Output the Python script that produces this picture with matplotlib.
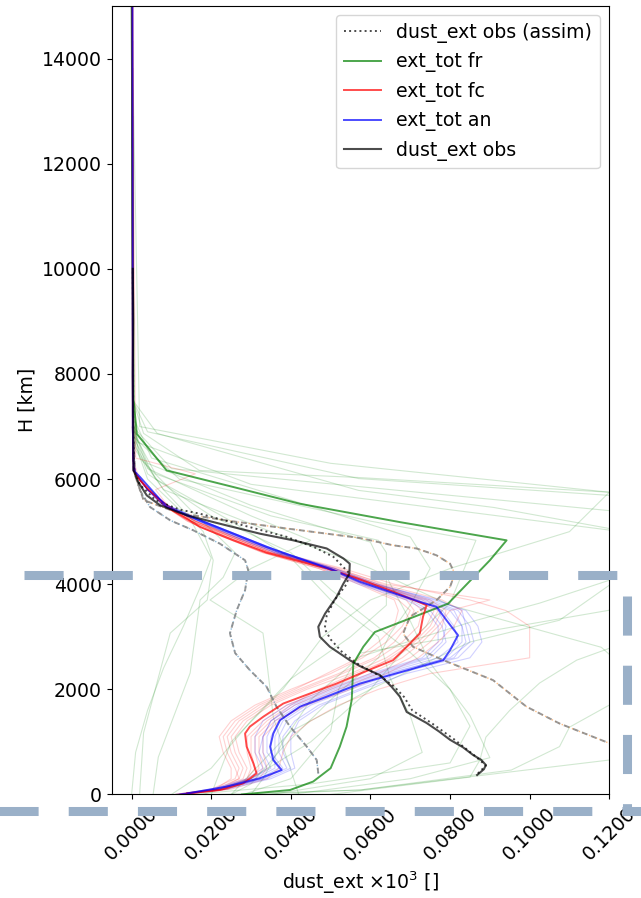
import matplotlib
matplotlib.use("Agg")
import matplotlib.pyplot as plt
from matplotlib.lines import Line2D
from matplotlib.ticker import FormatStrFormatter

# --- observed profiles ---
obs_H = [370, 480, 560, 660, 750, 900, 1040, 1200, 1360, 1570, 1860, 2050, 2270, 2440, 2555,
         2810, 3000, 3190, 3440, 3760, 4010, 4200, 4390, 4490, 4680, 4835, 4960, 5150,
         5310, 5500, 5690, 5940, 6165, 7000, 8000, 9000, 10000]
obs_x = [0.0868, 0.0885, 0.089, 0.0878, 0.0858, 0.0832, 0.080, 0.0772, 0.0741, 0.0691,
         0.0674, 0.0653, 0.0624, 0.0574, 0.0548, 0.0498, 0.0473, 0.0469, 0.0486, 0.0515,
         0.0532, 0.0547, 0.0548, 0.0532, 0.049, 0.0406, 0.0323, 0.0222, 0.0139, 0.0072,
         0.0038, 0.0017, 0.0005, 0.0004, 0.0003, 0.0004, 0.0003]

assim_H = [400, 550, 750, 1050, 1350, 1600, 1850, 2050, 2250, 2450, 2700, 2950, 3150,
           3400, 3700, 4000, 4200, 4520, 4700, 4900, 5120, 5340, 5420, 5600, 5900,
           6200, 7000, 10000]
assim_x = [0.087, 0.089, 0.086, 0.081, 0.0755, 0.0705, 0.0685, 0.066, 0.0625, 0.0575, 0.053,
           0.050, 0.0485, 0.049, 0.051, 0.054, 0.0548, 0.0507, 0.046, 0.039, 0.028,
           0.0172, 0.012, 0.006, 0.002, 0.0006, 0.0004, 0.0003]

# two other obs (assim) profiles, drawn dashed grey
obsL_H = [400, 655, 910, 1290, 1670, 2050, 2365, 2690, 3065, 3505, 3885, 4265, 4455,
          4520, 4770, 5025, 5215, 5470, 5785, 6100, 7000]
obsL_x = [0.0469, 0.0465, 0.044, 0.0398, 0.0364, 0.0339, 0.0297, 0.026, 0.0247, 0.0264,
          0.0285, 0.0293, 0.0285, 0.0272, 0.0222, 0.0155, 0.0097, 0.0046, 0.0021,
          0.0009, 0.0003]
obsR_H = [400, 700, 975, 1350, 1670, 2175, 2555, 2810, 3060, 3380, 3695, 3950, 4200,
          4390, 4550, 4680, 4740, 4880, 5050, 5200, 5350, 5600, 6150, 7000]
obsR_x = [0.14, 0.13, 0.12, 0.1075, 0.0992, 0.0908, 0.0783, 0.0707, 0.0682, 0.0699,
          0.0766, 0.080, 0.0812, 0.080, 0.0766, 0.0716, 0.0657, 0.0573, 0.040, 0.025,
          0.012, 0.003, 0.0005, 0.0003]

# --- ensemble means ---
fr_H = [0, 85, 245, 500, 910, 1290, 1800, 2490, 2810, 3090, 3630, 4455, 4835, 5180,
        5530, 5850, 6165, 6860, 7500, 15000]
fr_x = [0.0277, 0.0398, 0.0456, 0.050, 0.0523, 0.054, 0.0553, 0.0557, 0.0582, 0.0611,
        0.0795, 0.090, 0.0942, 0.0675, 0.0423, 0.0255, 0.0088, 0.0013, 0.0005, 0.0]

fc_H = [20, 85, 210, 400, 590, 910, 1160, 1290, 1480, 1730, 1920, 2110, 2300, 2555,
        2870, 3060, 3380, 3600, 3850, 4100, 4300, 4600, 4835, 5090, 5470, 5975, 6165,
        7000, 15000]
fc_x = [0.0139, 0.0222, 0.028, 0.0314, 0.0306, 0.0289, 0.0285, 0.0297, 0.0331, 0.0381,
        0.0448, 0.0515, 0.0574, 0.0657, 0.0699, 0.0724, 0.0732, 0.0741, 0.066, 0.057,
        0.049, 0.0339, 0.0256, 0.0172, 0.0088, 0.0021, 0.0005, 0.0003, 0.0002]

an_H = [20, 150, 310, 465, 655, 910, 1160, 1415, 1670, 1860, 2110, 2555, 2745, 3030,
        3315, 3570, 3665, 4045, 4265, 4710, 5215, 5470, 6040, 6165, 7000, 15000]
an_x = [0.014, 0.0239, 0.0323, 0.0377, 0.0356, 0.0348, 0.0356, 0.0373, 0.0423, 0.049,
        0.0574, 0.0783, 0.080, 0.082, 0.0791, 0.0766, 0.0724, 0.0574, 0.0507, 0.0339,
        0.0172, 0.0088, 0.0021, 0.0005, 0.0003, 0.0002]

# --- ensemble members (fc and an share one height grid) ---
mem_H = [0, 100, 300, 500, 800, 1100, 1400, 1700, 2000, 2300, 2600, 2900, 3200, 3500,
         3700, 4000, 4300, 4600, 4900, 5200, 5500, 5800, 6100, 6400, 15000]
fc_members = [
    [0.011, 0.020, 0.026, 0.027, 0.025, 0.024, 0.027, 0.033, 0.042, 0.052, 0.061, 0.066, 0.069, 0.071, 0.069, 0.059, 0.048, 0.034, 0.024, 0.015, 0.009, 0.004, 0.001, 0.0003, 0.0002],
    [0.012, 0.022, 0.028, 0.029, 0.027, 0.026, 0.029, 0.035, 0.044, 0.055, 0.064, 0.070, 0.074, 0.076, 0.072, 0.061, 0.050, 0.035, 0.025, 0.016, 0.009, 0.004, 0.001, 0.0003, 0.0002],
    [0.013, 0.024, 0.032, 0.034, 0.033, 0.033, 0.037, 0.043, 0.052, 0.062, 0.070, 0.075, 0.078, 0.079, 0.075, 0.062, 0.051, 0.036, 0.026, 0.016, 0.009, 0.004, 0.001, 0.0003, 0.0002],
    [0.012, 0.021, 0.025, 0.025, 0.023, 0.022, 0.025, 0.031, 0.040, 0.050, 0.058, 0.064, 0.068, 0.070, 0.067, 0.058, 0.047, 0.033, 0.023, 0.014, 0.008, 0.004, 0.001, 0.0003, 0.0002],
    [0.013, 0.025, 0.034, 0.037, 0.038, 0.040, 0.045, 0.052, 0.062, 0.075, 0.100, 0.100, 0.100, 0.094, 0.085, 0.066, 0.053, 0.037, 0.026, 0.016, 0.009, 0.004, 0.001, 0.0003, 0.0002],
    [0.012, 0.023, 0.030, 0.032, 0.031, 0.031, 0.035, 0.041, 0.050, 0.060, 0.068, 0.073, 0.077, 0.080, 0.090, 0.064, 0.051, 0.035, 0.025, 0.015, 0.009, 0.004, 0.001, 0.0003, 0.0002],
    [0.011, 0.021, 0.027, 0.028, 0.026, 0.025, 0.028, 0.034, 0.043, 0.053, 0.062, 0.068, 0.072, 0.073, 0.070, 0.060, 0.049, 0.034, 0.024, 0.015, 0.008, 0.004, 0.001, 0.0003, 0.0002],
    [0.012, 0.023, 0.029, 0.030, 0.029, 0.029, 0.033, 0.039, 0.049, 0.058, 0.065, 0.071, 0.075, 0.077, 0.073, 0.062, 0.050, 0.035, 0.025, 0.016, 0.009, 0.004, 0.001, 0.0003, 0.0002],
    [0.013, 0.024, 0.031, 0.033, 0.032, 0.032, 0.036, 0.044, 0.055, 0.064, 0.072, 0.077, 0.081, 0.083, 0.078, 0.063, 0.052, 0.036, 0.026, 0.016, 0.009, 0.004, 0.001, 0.0003, 0.0002],
    [0.011, 0.022, 0.027, 0.026, 0.024, 0.023, 0.026, 0.032, 0.041, 0.049, 0.057, 0.062, 0.066, 0.067, 0.066, 0.057, 0.047, 0.033, 0.023, 0.014, 0.008, 0.004, 0.0015, 0.0003, 0.0002],
    [0.012, 0.022, 0.029, 0.031, 0.030, 0.030, 0.034, 0.040, 0.047, 0.056, 0.066, 0.072, 0.076, 0.078, 0.074, 0.061, 0.050, 0.035, 0.025, 0.015, 0.009, 0.006, 0.016, 0.001, 0.0002],
]
an_members = [
    [0.012, 0.021, 0.030, 0.035, 0.033, 0.033, 0.035, 0.041, 0.051, 0.062, 0.075, 0.079, 0.078, 0.075, 0.070, 0.058, 0.049, 0.037, 0.027, 0.017, 0.008, 0.004, 0.001, 0.0003, 0.0002],
    [0.012, 0.023, 0.033, 0.039, 0.037, 0.037, 0.039, 0.045, 0.055, 0.066, 0.081, 0.084, 0.083, 0.080, 0.073, 0.060, 0.050, 0.038, 0.028, 0.018, 0.009, 0.004, 0.001, 0.0003, 0.0002],
    [0.011, 0.020, 0.029, 0.033, 0.031, 0.031, 0.033, 0.039, 0.049, 0.060, 0.073, 0.077, 0.077, 0.074, 0.069, 0.057, 0.048, 0.036, 0.026, 0.017, 0.008, 0.004, 0.001, 0.0003, 0.0002],
    [0.013, 0.024, 0.035, 0.041, 0.040, 0.040, 0.042, 0.048, 0.058, 0.069, 0.085, 0.088, 0.087, 0.084, 0.076, 0.062, 0.051, 0.038, 0.028, 0.018, 0.009, 0.004, 0.001, 0.0003, 0.0002],
    [0.012, 0.022, 0.032, 0.037, 0.034, 0.034, 0.036, 0.042, 0.052, 0.063, 0.077, 0.082, 0.081, 0.078, 0.072, 0.059, 0.050, 0.037, 0.027, 0.017, 0.008, 0.004, 0.001, 0.0003, 0.0002],
    [0.012, 0.022, 0.031, 0.036, 0.036, 0.036, 0.038, 0.044, 0.054, 0.065, 0.079, 0.083, 0.083, 0.081, 0.074, 0.060, 0.050, 0.037, 0.027, 0.018, 0.009, 0.004, 0.001, 0.0003, 0.0002],
    [0.012, 0.023, 0.034, 0.040, 0.038, 0.038, 0.041, 0.047, 0.057, 0.067, 0.082, 0.086, 0.085, 0.082, 0.075, 0.061, 0.051, 0.038, 0.028, 0.018, 0.009, 0.004, 0.001, 0.0003, 0.0002],
    [0.011, 0.021, 0.030, 0.034, 0.032, 0.033, 0.035, 0.040, 0.050, 0.061, 0.074, 0.078, 0.079, 0.077, 0.071, 0.058, 0.049, 0.036, 0.026, 0.017, 0.008, 0.004, 0.001, 0.0003, 0.0002],
    [0.012, 0.022, 0.033, 0.038, 0.035, 0.035, 0.037, 0.043, 0.053, 0.064, 0.080, 0.085, 0.084, 0.083, 0.077, 0.061, 0.050, 0.037, 0.027, 0.017, 0.008, 0.004, 0.001, 0.0003, 0.0002],
]

# fr members: each has its own levels
fr_members_H = [
    [0, 85, 465, 910, 1280, 1700, 3000, 4500, 5060, 5460, 5785, 6870, 7500, 15000],
    [0, 330, 655, 1090, 1600, 2120, 2555, 2780, 3500, 4500, 5750, 6030, 6165, 6870, 7500, 15000],
    [0, 300, 1000, 1800, 2620, 3315, 3640, 4075, 4600, 5690, 6010, 6900, 7500, 15000],
    [0, 400, 1200, 2000, 2900, 3315, 3980, 4700, 5400, 6200, 7000, 15000],
    [0, 300, 1200, 2000, 2690, 3125, 3505, 4300, 5030, 5900, 6700, 7200, 15000],
    [0, 1170, 3070, 3700, 4455, 5000, 5800, 6600, 7500, 15000],
    [0, 710, 2310, 3700, 4130, 4600, 5400, 6400, 7200, 15000],
    [0, 1470, 2500, 3070, 3700, 4300, 4835, 5300, 6200, 7000, 15000],
    [0, 300, 1000, 2000, 3060, 3640, 4835, 5200, 6000, 6800, 15000],
    [0, 500, 1400, 2200, 3000, 3600, 4600, 4835, 5300, 6100, 6900, 15000],
    [0, 85, 655, 1200, 2000, 2800, 3600, 4300, 5000, 5800, 6600, 15000],
    [0, 300, 800, 1500, 2200, 3000, 3700, 4500, 5200, 6000, 6800, 15000],
    [0, 200, 600, 1300, 2000, 2700, 3300, 3900, 4600, 5300, 6100, 6900, 15000],
    [0, 1000, 2000, 3000, 3700, 4300, 5000, 5750, 6300, 7000, 15000],
    [0, 300, 700, 1500, 2500, 3300, 4000, 4800, 5500, 6300, 7000, 15000],
    [0, 800, 1600, 2400, 3200, 3900, 4500, 5200, 6000, 6800, 15000],
    [0, 200, 900, 1800, 2600, 3060, 3600, 4300, 4900, 5600, 6400, 7200, 15000],
]
fr_members_x = [
    [0.022, 0.0574, 0.0954, 0.1075, 0.11, 0.12, 0.16, 0.16, 0.12, 0.091, 0.057, 0.0064, 0.0003, 0.0],
    [0.05, 0.085, 0.0875, 0.089, 0.095, 0.1025, 0.1118, 0.12, 0.15, 0.16, 0.12, 0.057, 0.017, 0.003, 0.0003, 0.0],
    [0.03, 0.033, 0.038, 0.045, 0.0574, 0.0867, 0.1025, 0.12, 0.15, 0.12, 0.057, 0.004, 0.0003, 0.0],
    [0.025, 0.03, 0.04, 0.06, 0.085, 0.1075, 0.12, 0.15, 0.12, 0.01, 0.0003, 0.0],
    [0.028, 0.04, 0.05, 0.052, 0.0574, 0.091, 0.12, 0.15, 0.12, 0.03, 0.0015, 0.0002, 0.0],
    [0.002, 0.003, 0.0097, 0.019, 0.0205, 0.018, 0.008, 0.001, 0.0002, 0.0],
    [0.0054, 0.0067, 0.0147, 0.0172, 0.023, 0.026, 0.015, 0.002, 0.0002, 0.0],
    [0.042, 0.0356, 0.034, 0.033, 0.0197, 0.03, 0.045, 0.03, 0.004, 0.0003, 0.0],
    [0.018, 0.03, 0.045, 0.06, 0.072, 0.080, 0.0865, 0.06, 0.012, 0.0005, 0.0],
    [0.01, 0.02, 0.03, 0.04, 0.055, 0.064, 0.064, 0.062, 0.035, 0.006, 0.0003, 0.0],
    [0.03, 0.0574, 0.12, 0.14, 0.13, 0.118, 0.08, 0.06, 0.035, 0.008, 0.0005, 0.0],
    [0.035, 0.06, 0.073, 0.07, 0.065, 0.062, 0.05, 0.04, 0.025, 0.006, 0.0004, 0.0],
    [0.015, 0.045, 0.08, 0.085, 0.08, 0.07, 0.06, 0.05, 0.04, 0.02, 0.004, 0.0003, 0.0],
    [0.02, 0.025, 0.038, 0.048, 0.06, 0.08, 0.11, 0.12, 0.05, 0.002, 0.0],
    [0.04, 0.07, 0.09, 0.085, 0.075, 0.07, 0.065, 0.06, 0.03, 0.004, 0.0003, 0.0],
    [0.0, 0.001, 0.004, 0.008, 0.013, 0.017, 0.02, 0.015, 0.004, 0.0003, 0.0],
    [0.025, 0.03, 0.038, 0.05, 0.062, 0.065, 0.070, 0.075, 0.07, 0.04, 0.005, 0.0003, 0.0],
]

FS = 13.6
fig = plt.figure(figsize=(6.41, 8.98), dpi=100)
ax = fig.add_axes([0.1743, 0.1153, 0.7762, 0.878])

# ensemble members, faint
for hs, xs in zip(fr_members_H, fr_members_x):
    ax.plot(xs, hs, color='g', alpha=0.18, lw=0.8)
for xs in fc_members:
    ax.plot(xs, mem_H, color='r', alpha=0.18, lw=0.8)
for xs in an_members:
    ax.plot(xs, mem_H, color='b', alpha=0.18, lw=0.8)

# other obs (assim) profiles
ax.plot(obsL_x, obsL_H, color='tab:blue', ls=':', alpha=0.5, lw=1.0)
ax.plot(obsR_x, obsR_H, color='tab:orange', ls=':', alpha=0.5, lw=1.0)
ax.plot(obsL_x, obsL_H, color='gray', ls=(0, (3, 2)), alpha=0.8, lw=1.4)
ax.plot(obsR_x, obsR_H, color='gray', ls=(0, (3, 2)), alpha=0.8, lw=1.4)

# means and obs
h_assim, = ax.plot(assim_x, assim_H, color='k', ls=':', alpha=0.7, lw=1.4,
                   label='dust_ext obs (assim)')
h_fr, = ax.plot(fr_x, fr_H, color='g', alpha=0.7, lw=1.4, label='ext_tot fr')
h_fc, = ax.plot(fc_x, fc_H, color='r', alpha=0.7, lw=1.4, label='ext_tot fc')
h_an, = ax.plot(an_x, an_H, color='b', alpha=0.7, lw=1.4, label='ext_tot an')
h_obs, = ax.plot(obs_x, obs_H, color='k', alpha=0.7, lw=1.5, label='dust_ext obs')

ax.set_xlim(-0.005, 0.12)
ax.set_ylim(0, 15000)
ax.set_xticks([0.0, 0.02, 0.04, 0.06, 0.08, 0.10, 0.12])
ax.xaxis.set_major_formatter(FormatStrFormatter('%.4f'))
ax.tick_params(labelsize=FS)
plt.setp(ax.get_xticklabels(), rotation=45)
ax.set_xlabel('dust_ext $\\times 10^3$ []', fontsize=FS)
ax.set_ylabel('H [km]', fontsize=FS)
ax.legend(handles=[h_assim, h_fr, h_fc, h_an, h_obs], loc='upper right', fontsize=FS)

# dashed frame overlay, in figure pixels
W, Hpx = 641.0, 898.0
frame_col = '#9ab0c8'
def px_line(xs, ys):
    ln = Line2D([x / W for x in xs], [1 - y / Hpx for y in ys], transform=fig.transFigure,
                color=frame_col, lw=6.5, dashes=(39 / 9.0, 30 / 9.0), solid_capstyle='butt',
                dash_capstyle='butt', zorder=10)
    fig.add_artist(ln)

px_line([24, 627], [575, 575])
px_line([-28, 660], [811, 811])
px_line([627, 627], [596, 814])

fig.savefig('out.png', dpi=100)
